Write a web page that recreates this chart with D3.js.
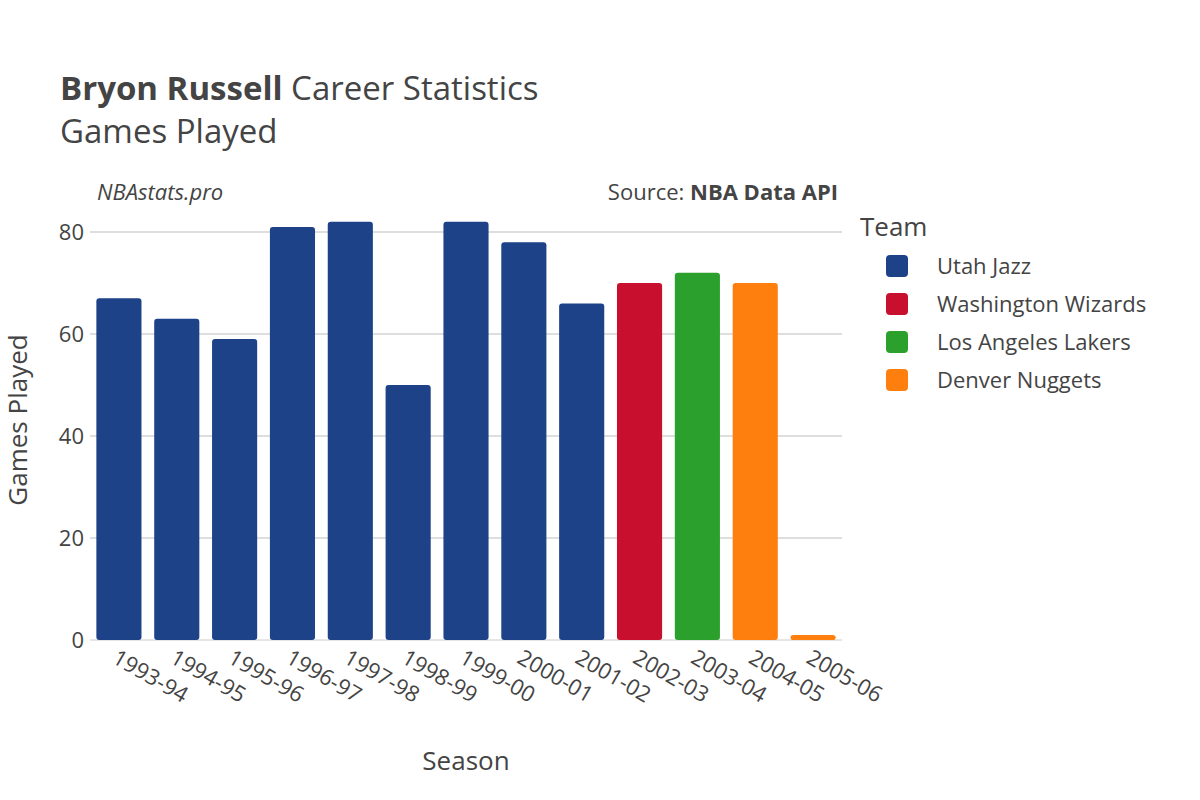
<!DOCTYPE html>
<html><head><meta charset="utf-8">
<script src="https://cdn.jsdelivr.net/npm/d3@7"></script>
<style>body{margin:0;background:#fff;font-family:"Open Sans",sans-serif;}</style>
</head><body><div id="vis"></div>
<script>
// data
const seasons = ["1993-94","1994-95","1995-96","1996-97","1997-98","1998-99","1999-00","2000-01","2001-02","2002-03","2003-04","2004-05","2005-06"];
const games = [67,63,59,81,82,50,82,78,66,70,72,70,1];
const teams = ["Utah Jazz","Utah Jazz","Utah Jazz","Utah Jazz","Utah Jazz","Utah Jazz","Utah Jazz","Utah Jazz","Utah Jazz","Washington Wizards","Los Angeles Lakers","Denver Nuggets","Denver Nuggets"];
const teamNames = ["Utah Jazz","Washington Wizards","Los Angeles Lakers","Denver Nuggets"];
const teamColors = ["#1d4287","#c8102e","#2ca02c","#ff7f0e"];
const yTicks = [0,20,40,60,80];

const svg = d3.select("#vis").append("svg").attr("width",1200).attr("height",800);
const color = d3.scaleOrdinal().domain(teamNames).range(teamColors);
const x = d3.scaleBand().domain(seasons).range([90,842]).paddingInner(0.22).paddingOuter(0.11);
const y = d3.scaleLinear().domain([0,80]).range([640,232]);

// gridlines
svg.selectAll(".grid").data(yTicks.slice(1)).enter().append("line")
  .attr("x1",90).attr("x2",842).attr("y1",d=>y(d)).attr("y2",d=>y(d))
  .attr("stroke","#bdbdbd").attr("stroke-width",1);
svg.append("line").attr("x1",90).attr("x2",842).attr("y1",y(0)).attr("y2",y(0))
  .attr("stroke","#e6e6e6").attr("stroke-width",2);

// bars
svg.selectAll(".bar").data(seasons).enter().append("rect")
  .attr("x",d=>x(d)).attr("width",x.bandwidth())
  .attr("y",(d,i)=>y(games[i])).attr("height",(d,i)=>y(0)-y(games[i]))
  .attr("rx",3).attr("fill",(d,i)=>color(teams[i]));

// y axis labels
svg.selectAll(".yt").data(yTicks).enter().append("text")
  .attr("x",84).attr("y",d=>y(d)+8).attr("text-anchor","end")
  .attr("font-size",22).attr("fill","#444").text(d=>d);

// x axis labels
svg.selectAll(".xt").data(seasons).enter().append("text")
  .attr("transform",d=>`translate(${x(d)+x.bandwidth()/2-8},${662}) rotate(30)`)
  .attr("font-size",22).attr("fill","#444").text(d=>d);

// titles
const t = svg.append("text").attr("x",60).attr("y",100).attr("font-size",33).attr("fill","#444");
t.append("tspan").attr("font-weight","bold").text("Bryon Russell");
t.append("tspan").text(" Career Statistics");
svg.append("text").attr("x",60).attr("y",143).attr("font-size",33).attr("fill","#444").text("Games Played");
svg.append("text").attr("x",97).attr("y",200).attr("font-size",22).attr("font-style","italic").attr("fill","#444").text("NBAstats.pro");
const s = svg.append("text").attr("x",838).attr("y",200).attr("font-size",22).attr("text-anchor","end").attr("fill","#444");
s.append("tspan").text("Source: ");
s.append("tspan").attr("font-weight","bold").text("NBA Data API");
svg.append("text").attr("x",466).attr("y",770).attr("font-size",26).attr("text-anchor","middle").attr("fill","#444").text("Season");
svg.append("text").attr("transform","translate(27,420) rotate(-90)").attr("font-size",26).attr("text-anchor","middle").attr("fill","#444").text("Games Played");

// legend
svg.append("text").attr("x",860).attr("y",236).attr("font-size",26).attr("fill","#444").text("Team");
const lg = svg.selectAll(".lg").data(teamNames).enter().append("g")
  .attr("transform",(d,i)=>`translate(886,${266+i*38})`);
lg.append("rect").attr("x",0).attr("y",-11).attr("width",22).attr("height",22).attr("rx",4).attr("fill",d=>color(d));
lg.append("text").attr("x",51).attr("y",8).attr("font-size",22).attr("fill","#444").text(d=>d);
</script></body></html>
